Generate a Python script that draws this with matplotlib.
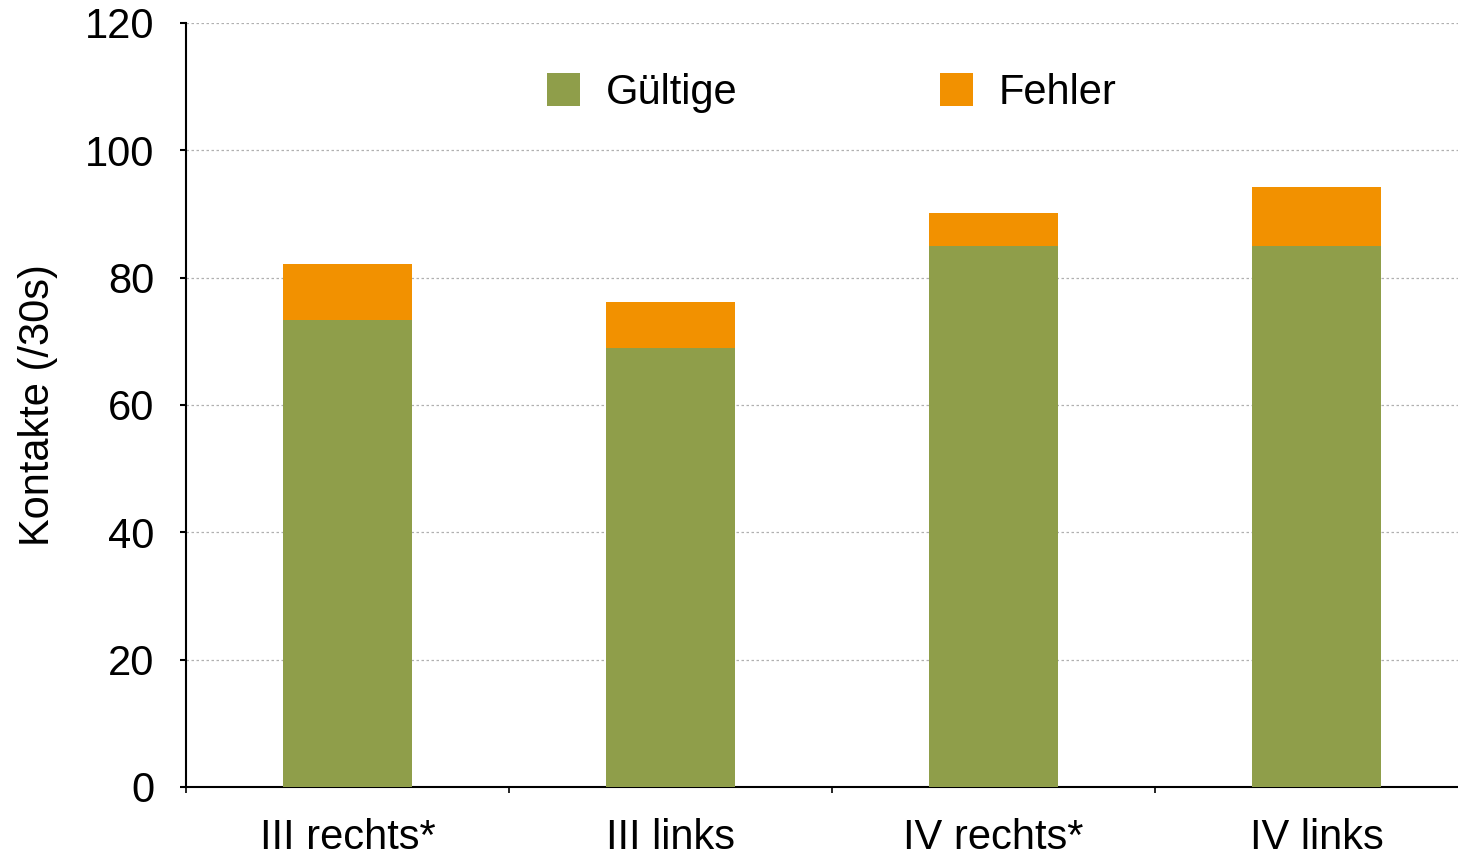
import matplotlib
matplotlib.use("Agg")
import matplotlib.pyplot as plt
import numpy as np

categories = ["III rechts*", "III links", "IV rechts*", "IV links"]
gueltige = [73.3, 69.0, 85.0, 85.0]
fehler = [8.8, 7.2, 5.1, 9.2]
series_labels = ["Gültige", "Fehler"]
yticks = [0, 20, 40, 60, 80, 100, 120]

green = "#8F9E4A"
orange = "#F29100"

plt.rcParams['font.family'] = ['Liberation Sans', 'DejaVu Sans']

fig = plt.figure(figsize=(14.58, 8.57), dpi=100)
W, H = 1458, 857
ax = fig.add_axes([186 / W, 1 - 787 / H, 1292 / W, (787 - 23) / H])

x = np.arange(len(categories))
ax.bar(x, gueltige, width=0.4, color=green, label=series_labels[0], zorder=3)
ax.bar(x, fehler, width=0.4, bottom=gueltige, color=orange, label=series_labels[1], zorder=3)

ax.set_xlim(-0.5, len(categories) - 0.5)
ax.set_ylim(0, 120)
ax.set_yticks(yticks)
ax.set_yticklabels([str(v) for v in yticks], fontsize=30)
ax.set_xticks(x)
ax.set_xticklabels(categories, fontsize=30)
ax.set_xticks(np.arange(len(categories) + 1) - 0.5, minor=True)
ax.tick_params(axis='x', which='major', length=0, pad=22)
ax.tick_params(axis='x', which='minor', length=4, width=1.2, direction='out')
ax.tick_params(axis='y', which='major', length=4, width=1.5, direction='out', pad=19)

ax.yaxis.grid(True, linestyle=(0, (2, 2)), color='#b0b0b0', linewidth=0.9, zorder=0)
ax.set_axisbelow(True)

for s in ['top', 'right']:
    ax.spines[s].set_visible(False)
ax.spines['left'].set_linewidth(1.5)
ax.spines['bottom'].set_linewidth(1.5)

ax.set_ylabel("Kontakte (/30s)", fontsize=30, labelpad=19)

leg = ax.legend(loc='center', bbox_to_anchor=(0.5, 0.908), ncol=2, frameon=False,
                fontsize=30, handlelength=0.8, handleheight=0.85, handletextpad=0.62,
                columnspacing=4.85)

fig.savefig("out.png", dpi=100)
